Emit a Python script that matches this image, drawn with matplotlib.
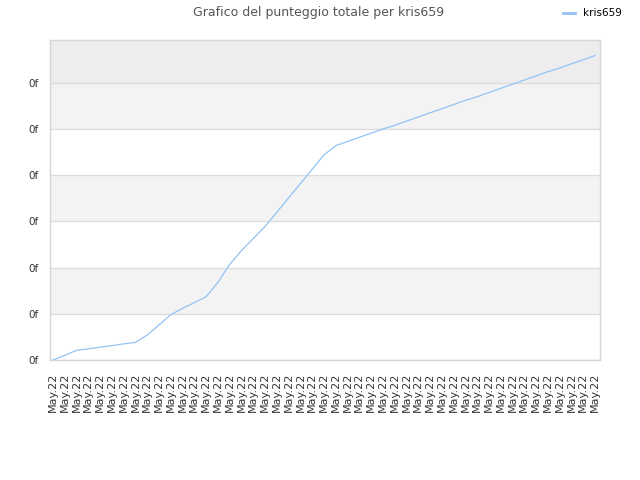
import matplotlib
matplotlib.use("Agg")
import matplotlib.pyplot as plt
from matplotlib.lines import Line2D

player = "kris659"
title = "Grafico del punteggio totale per " + player

# one label per sample, all the same month
dates = ["May.22"] * 47

# total score (in y-tick units)
scores = [0.00, 0.10, 0.21, 0.24, 0.28, 0.31, 0.35, 0.38, 0.54, 0.76,
          0.98, 1.12, 1.24, 1.37, 1.68, 2.07, 2.37, 2.63, 2.89, 3.20,
          3.51, 3.82, 4.13, 4.44, 4.64, 4.73, 4.82, 4.91, 5.00, 5.08,
          5.17, 5.26, 5.35, 5.44, 5.53, 5.62, 5.70, 5.79, 5.88, 5.97,
          6.06, 6.15, 6.24, 6.32, 6.41, 6.50, 6.59]

y_ticks = [0, 1, 2, 3, 4, 5, 6]
y_labels = ["0f"] * len(y_ticks)

line_col = "#92c3f4"
grid_col = "#dddddd"

fig = plt.figure(figsize=(6.4, 4.8), dpi=100)
ax = fig.add_axes([50 / 640, 120 / 480, 550 / 640, 319.7 / 480])

xs = list(range(len(scores)))
ax.set_xlim(-0.25, len(scores) - 1 + 0.42)
ymax = 6.92
ax.set_ylim(0, ymax)

# alternating background bands
for i, t in enumerate(y_ticks):
    top = y_ticks[i + 1] if i + 1 < len(y_ticks) else ymax
    if t == y_ticks[-1]:
        col = "#ededed"
    elif i % 2 == 1:
        col = "#f3f3f3"
    else:
        col = "white"
    ax.axhspan(t, top, color=col, zorder=0, lw=0)
    ax.axhline(t, color=grid_col, lw=1, zorder=1)

ax.plot(xs, scores, color=line_col, lw=0.9, zorder=3)

ax.set_yticks(y_ticks)
ax.set_yticklabels(y_labels, fontsize=7.5, color="#333333")
ax.set_xticks(xs)
ax.set_xticklabels(dates, rotation=90, fontsize=8, color="#333333")
ax.tick_params(length=0)
ax.tick_params(axis="y", pad=8)
ax.tick_params(axis="x", pad=9)

for s in ax.spines.values():
    s.set_color("#d6d6d6")
    s.set_linewidth(1)

fig.text(0.497, 0.974, title, ha="center", va="center", fontsize=9, color="#555555")

handle = Line2D([0], [0], color=line_col, lw=2)
fig.legend([handle], [player], loc="center", bbox_to_anchor=(0.926, 0.972),
           frameon=False, fontsize=7.5, handlelength=1.1, handletextpad=0.8)

fig.savefig("out.png", dpi=100)
